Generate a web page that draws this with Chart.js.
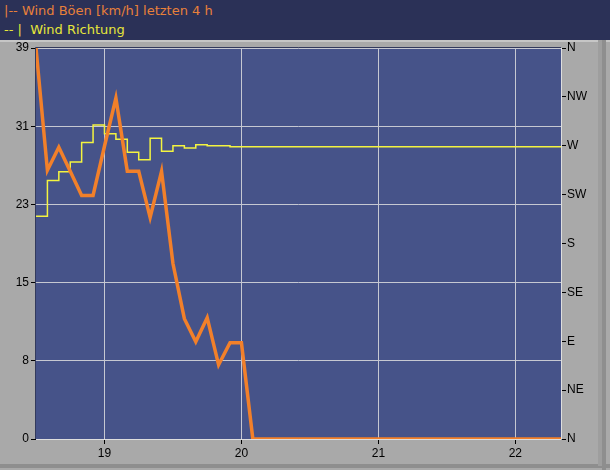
<!DOCTYPE html>
<html>
<head>
<meta charset="utf-8">
<script src="https://cdn.jsdelivr.net/npm/chart.js@4"></script>
<style>
	html, body { margin: 0; padding: 0; }
	body { width: 610px; height: 470px; position: relative; overflow: hidden; background: #a9a9a9; }
	#wrap { position: absolute; left: 0; top: 0; width: 610px; height: 470px; }
	#head { position: absolute; left: 0; top: 0; width: 610px; height: 40px; background: #2b3157; font: 13px "DejaVu Sans", Verdana, sans-serif; }
	#head div { position: absolute; left: 4px; white-space: pre; }
	#l1 { top: 3px; color: #e8803a; }
	#l2 { top: 22px; color: #e6e63a; }
</style>
</head>
<body>
<div id="wrap"><canvas id="target" width="610" height="470"></canvas></div>
<div id="head">
	<div id="l1">|-- Wind Böen [km/h] letzten 4 h</div>
	<div id="l2">-- |  Wind Richtung</div>
</div>
<script>
// samples every 5 min, last one is the right edge of the window
const times = ['18:30', '18:35', '18:40', '18:45', '18:50', '18:55', '19:00', '19:05', '19:10', '19:15',
	'19:20', '19:25', '19:30', '19:35', '19:40', '19:45', '19:50', '19:55', '20:00', '20:05', '22:20'];
const gusts = [39, 26.8, 29.1, 26.7, 24.3, 24.3, 29.2, 34.0, 26.7, 26.7,
	22.1, 26.7, 17.5, 12.0, 9.7, 12.1, 7.4, 9.6, 9.6, 0, 0];
const direction = [205, 238, 246, 255, 273, 289, 281, 276, 264, 257,
	277, 265, 270, 268, 271, 270, 270, 269, 269, 269, 269];

const xTicks = [19, 20, 21, 22];
const speedTicks = [0, 7.8, 15.6, 23.4, 31.2, 39];
const speedLabels = ['0', '8', '15', '23', '31', '39'];
const dirTicks = [0, 45, 90, 135, 180, 225, 270, 315, 360];
const dirLabels = ['N', 'NE', 'E', 'SE', 'S', 'SW', 'W', 'NW', 'N'];

const toHours = t => {
	const [h, m] = t.split(':').map(Number);
	return h + m / 60;
};
const hours = times.map(toHours);

const font = { family: '"Liberation Sans", Arial, sans-serif', size: 12 };

const frame = {
	id: 'frame',
	beforeDraw(chart) {
		const ctx = chart.ctx;
		const a = chart.chartArea;
		ctx.save();
		ctx.fillStyle = '#a9a9a9';
		ctx.fillRect(0, 0, 610, 470);
		ctx.fillStyle = '#c6c6c6';
		ctx.fillRect(0, 40, 610, 2);
		ctx.fillStyle = '#8e8e8e';
		ctx.fillRect(602, 40, 4, 430);
		ctx.fillRect(0, 464, 610, 4);
		ctx.fillStyle = '#9e9e9e';
		ctx.fillRect(598, 40, 4, 426);
		ctx.fillStyle = '#465389';
		ctx.fillRect(a.left, a.top, a.right - a.left, a.bottom - a.top);
		ctx.restore();
	},
	afterDraw(chart) {
		const ctx = chart.ctx;
		const a = chart.chartArea;
		ctx.save();
		ctx.lineWidth = 1;
		ctx.strokeStyle = '#333a5c';
		ctx.beginPath();
		ctx.moveTo(a.left - 0.5, a.bottom);
		ctx.lineTo(a.left - 0.5, a.top - 0.5);
		ctx.lineTo(a.right, a.top - 0.5);
		ctx.stroke();
		ctx.strokeStyle = '#dedede';
		ctx.beginPath();
		ctx.moveTo(a.right + 0.5, a.top);
		ctx.lineTo(a.right + 0.5, a.bottom + 0.5);
		ctx.lineTo(a.left, a.bottom + 0.5);
		ctx.stroke();
		ctx.restore();
	}
};

const chart = new Chart(document.getElementById('target'), {
	type: 'line',
	data: {
		datasets: [{
			label: 'Wind Böen',
			data: hours.map((h, i) => ({ x: h, y: gusts[i] })),
			yAxisID: 'y',
			borderColor: '#f2802a',
			borderWidth: 3.5,
			pointRadius: 0,
			tension: 0
		}, {
			label: 'Wind Richtung',
			data: hours.map((h, i) => ({ x: h, y: direction[i] })),
			yAxisID: 'y2',
			borderColor: '#f4f440',
			borderWidth: 1.5,
			pointRadius: 0,
			stepped: 'before'
		}]
	},
	options: {
		responsive: false,
		animation: false,
		devicePixelRatio: 1,
		layout: { padding: { top: 48, left: 0, right: 0, bottom: 0 } },
		plugins: { legend: { display: false }, tooltip: { enabled: false } },
		scales: {
			x: {
				type: 'linear',
				min: 18.5,
				max: 22 + 20 / 60,
				afterBuildTicks: s => { s.ticks = xTicks.map(v => ({ value: v })); },
				afterFit: s => { s.height = 31; },
				grid: { color: '#c6c8d2', tickColor: '#000', tickLength: 5 },
				border: { display: false },
				ticks: { color: '#000', font, padding: 2, maxRotation: 0, callback: v => String(v) }
			},
			y: {
				position: 'left',
				min: 0,
				max: 39,
				afterBuildTicks: s => { s.ticks = speedTicks.map(v => ({ value: v })); },
				afterFit: s => { s.width = 36; },
				grid: { color: '#c6c8d2', tickColor: '#000', tickLength: 5 },
				border: { display: false },
				ticks: { color: '#000', font, padding: 2, callback: (v, i) => speedLabels[i] }
			},
			y2: {
				position: 'right',
				min: 0,
				max: 360,
				afterBuildTicks: s => { s.ticks = dirTicks.map(v => ({ value: v })); },
				afterFit: s => { s.width = 49; },
				grid: { drawOnChartArea: false, tickColor: '#000', tickLength: 5 },
				border: { display: false },
				ticks: { color: '#000', font, padding: 1, callback: (v, i) => dirLabels[i] }
			}
		}
	},
	plugins: [frame]
});
</script>
</body>
</html>
